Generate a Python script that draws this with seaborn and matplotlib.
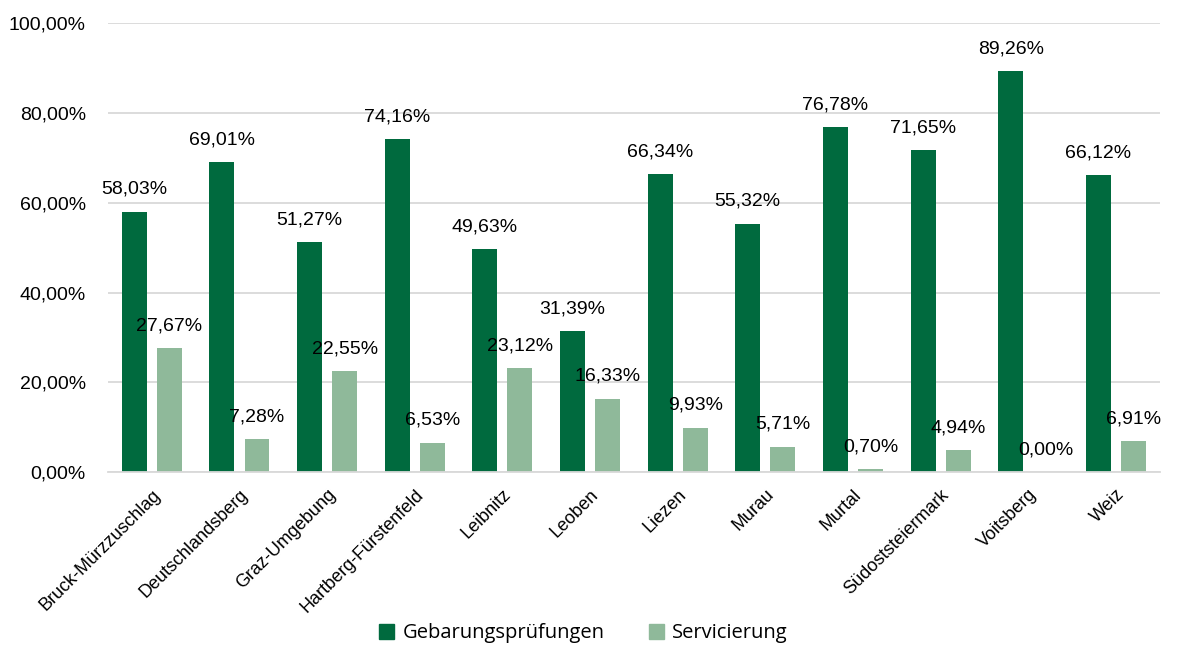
import pandas as pd
import matplotlib.pyplot as plt
import seaborn as sns

# -------------------------------
# Data
# -------------------------------
bezirke = ["Bruck-Mürzzuschlag", "Deutschlandsberg", "Graz-Umgebung", "Hartberg-Fürstenfeld",
           "Leibnitz", "Leoben", "Liezen", "Murau", "Murtal", "Südoststeiermark",
           "Voitsberg", "Weiz"]
gebarung = [58.03, 69.01, 51.27, 74.16, 49.63, 31.39, 66.34, 55.32, 76.78, 71.65, 89.26, 66.12]
service = [27.67, 7.28, 22.55, 6.53, 23.12, 16.33, 9.93, 5.71, 0.70, 4.94, 0.00, 6.91]
series = ["Gebarungsprüfungen", "Servicierung"]
colors = ["#006A3E", "#8FB99A"]

df = pd.DataFrame({
    "Bezirk": bezirke * 2,
    "Wert": gebarung + service,
    "Art": [series[0]] * len(bezirke) + [series[1]] * len(bezirke),
})

# -------------------------------
# Plot
# -------------------------------
sns.set_style("white")
plt.rcParams["font.family"] = ["Liberation Sans", "DejaVu Sans"]
plt.rcParams["text.color"] = "black"

fig = plt.figure(figsize=(11.83, 6.45), dpi=100)
ax = fig.add_axes([0.0913, 0.268, 0.889, 0.696])

sns.barplot(data=df, x="Bezirk", y="Wert", hue="Art", palette=colors,
            width=0.8, gap=0.29, saturation=1, linewidth=0, ax=ax, legend=False)

ax.set_ylim(0, 100)
ax.set_yticks(range(0, 101, 20))
ax.set_yticklabels([f"{v},00%" for v in range(0, 101, 20)], fontsize=14, color="black")
ax.yaxis.grid(True, color="#D9D9D9", linewidth=1.3)
ax.set_axisbelow(True)
ax.tick_params(axis="y", length=0, pad=16)
ax.tick_params(axis="x", length=0, pad=10)
ax.set_xlabel("")
ax.set_ylabel("")
for s in ["top", "right", "left"]:
    ax.spines[s].set_visible(False)
ax.spines["bottom"].set_color("#D9D9D9")
ax.spines["bottom"].set_linewidth(1.3)

plt.setp(ax.get_xticklabels(), rotation=45, ha="right", rotation_mode="anchor",
         fontsize=13, color="black")

# value labels
for cont in ax.containers:
    for bar in cont:
        h = bar.get_height()
        ax.annotate(f"{h:.2f}".replace(".", ",") + "%",
                    (bar.get_x() + bar.get_width() / 2, h),
                    xytext=(0, 10), textcoords="offset points",
                    ha="center", va="bottom", fontsize=14)

handles = [plt.Rectangle((0, 0), 1, 1, color=c) for c in colors]
fig.legend(handles, series, loc="center", bbox_to_anchor=(0.493, 0.018), ncol=2, frameon=False,
           prop={"family": "Open Sans", "size": 14.5}, handlelength=0.75, handleheight=0.75,
           columnspacing=2.2, handletextpad=0.4, borderpad=0)

fig.savefig("out.png", dpi=100)
